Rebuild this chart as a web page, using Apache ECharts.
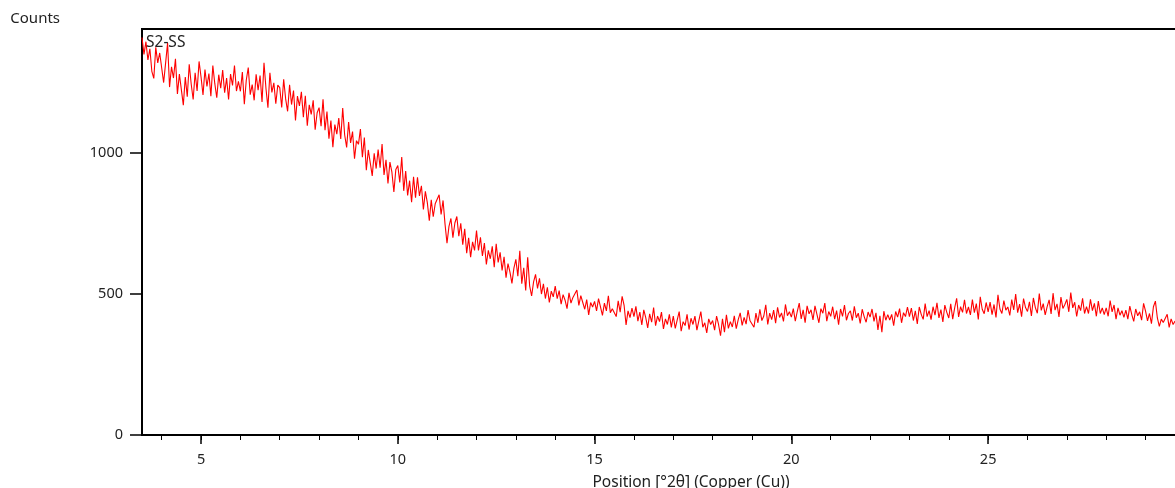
<!DOCTYPE html>
<html>
<head>
<meta charset="utf-8">
<script src="https://cdn.jsdelivr.net/npm/echarts@6/dist/echarts.min.js"></script>
<style>html,body{margin:0;padding:0;background:#fff}#c{width:1175px;height:488px}</style>
</head>
<body>
<div id="c"></div>
<script>
// Scan settings
var xStart = 3.5;
var xStep = 0.05;
var seriesName = 'S2-SS';
var xMajorTicks = [5, 10, 15, 20, 25, 30];
var xMinorTicks = [4, 5, 6, 7, 8, 9, 10, 11, 12, 13, 14, 15, 16, 17, 18, 19, 20, 21, 22, 23, 24, 25, 26, 27, 28, 29, 30, 31];
var yTicks = [0, 500, 1000];

// Counts, one value per 0.05 deg from 3.50 deg
var counts = [
  1410, 1350, 1395, 1330, 1370, 1290, 1265, 1375, 1320, 1355,
  1354, 1250, 1320, 1390, 1234, 1306, 1266, 1334, 1210, 1280,
  1225, 1170, 1270, 1200, 1315, 1245, 1190, 1285, 1220, 1325,
  1270, 1206, 1296, 1236, 1282, 1202, 1310, 1246, 1196, 1278,
  1230, 1294, 1214, 1266, 1190, 1280, 1240, 1310, 1220, 1254,
  1219, 1287, 1173, 1259, 1303, 1207, 1243, 1187, 1279, 1223,
  1275, 1181, 1320, 1229, 1161, 1285, 1215, 1249, 1175, 1241,
  1232, 1162, 1262, 1192, 1148, 1242, 1172, 1222, 1116, 1202,
  1167, 1217, 1127, 1203, 1097, 1171, 1137, 1187, 1083, 1143,
  1161, 1095, 1191, 1081, 1147, 1051, 1115, 1021, 1101, 1067,
  1124, 1050, 1160, 1064, 1020, 1110, 1036, 1076, 980, 1044,
  1031, 1085, 985, 1055, 939, 1011, 965, 919, 999, 945,
  1012, 948, 1032, 922, 976, 892, 968, 932, 862, 942,
  956, 896, 986, 866, 936, 850, 902, 826, 916, 842,
  914, 848, 884, 800, 864, 824, 760, 834, 774, 820,
  822, 852, 782, 832, 748, 680, 740, 768, 700, 752,
  775, 705, 751, 675, 731, 645, 699, 631, 685, 655,
  725, 655, 701, 635, 681, 605, 655, 625, 669, 595,
  678, 612, 648, 584, 632, 558, 608, 578, 538, 592,
  623, 563, 653, 537, 593, 513, 630, 529, 493, 543,
  570, 520, 556, 500, 536, 484, 524, 470, 510, 490,
  528, 484, 512, 464, 498, 478, 448, 504, 468, 488,
  486, 514, 460, 494, 470, 446, 480, 426, 470, 454,
  474, 440, 484, 454, 424, 468, 440, 494, 434, 448,
  450, 420, 476, 436, 492, 460, 390, 440, 416, 450,
  420, 456, 404, 436, 390, 444, 416, 380, 430, 400,
  452, 388, 422, 402, 436, 376, 412, 392, 428, 382,
  422, 378, 408, 438, 368, 402, 388, 428, 374, 414,
  392, 422, 372, 406, 438, 382, 398, 362, 412, 392,
  406, 372, 422, 392, 352, 412, 365, 426, 378, 402,
  383, 423, 377, 409, 433, 389, 417, 393, 443, 405,
  412, 382, 432, 398, 446, 406, 422, 462, 392, 432,
  409, 443, 397, 453, 417, 433, 403, 463, 423, 437,
  418, 448, 404, 438, 468, 412, 444, 398, 458, 430,
  444, 408, 458, 428, 398, 448, 432, 468, 404, 438,
  421, 455, 411, 441, 391, 447, 421, 461, 407, 431,
  440, 406, 456, 416, 432, 396, 446, 420, 400, 436,
  418, 447, 403, 433, 373, 423, 365, 439, 407, 427,
  408, 428, 388, 438, 418, 448, 398, 434, 420, 454,
  420, 450, 406, 440, 394, 454, 428, 410, 466, 420,
  441, 409, 455, 425, 469, 415, 445, 401, 461, 435,
  415, 465, 411, 451, 485, 419, 455, 435, 479, 431,
  454, 426, 480, 434, 466, 410, 490, 446, 430, 470,
  437, 471, 427, 463, 417, 497, 447, 431, 477, 443,
  454, 424, 480, 444, 500, 434, 464, 420, 484, 452,
  438, 472, 422, 486, 452, 432, 502, 442, 466, 426,
  455, 479, 429, 503, 443, 465, 419, 489, 449, 463,
  481, 437, 505, 451, 471, 421, 461, 441, 485, 431,
  455, 431, 481, 441, 467, 421, 475, 431, 451, 427,
  451, 421, 477, 437, 461, 411, 451, 425, 441, 417,
  443, 411, 457, 427, 403, 447, 423, 437, 407, 467,
  439, 405, 431, 395, 455, 475, 415, 385, 411, 399,
  402, 428, 382, 412, 392, 404
];

var data = counts.map(function (v, i) {
  return [+(xStart + i * xStep).toFixed(2), v];
});

var txt = '#222';
var font = 'Noto Sans';
var chart = echarts.init(document.getElementById('c'));
chart.setOption({
  animation: false,
  backgroundColor: '#fff',
  textStyle: { fontFamily: font },
  legend: {
    data: [{ name: seriesName, icon: 'none' }],
    left: 136, top: 30, itemWidth: 0, itemHeight: 14, itemGap: 0,
    selectedMode: false,
    textStyle: { color: txt, fontSize: 15.5, fontFamily: font }
  },
  grid: {
    left: 142, top: 29, width: 1098, bottom: 53,
    outerBoundsMode: 'none',
    containLabel: false,
    show: true, borderColor: '#000', borderWidth: 2, backgroundColor: '#fff'
  },
  xAxis: [{
    type: 'value', min: 3.5, max: 31.4, position: 'bottom',
    name: 'Position [°2θ] (Copper (Cu))', nameLocation: 'middle', nameGap: 40,
    nameTextStyle: { color: txt, fontSize: 15.5, fontFamily: font },
    axisLine: { show: true, lineStyle: { color: '#000', width: 2 } },
    axisTick: { show: true, customValues: xMajorTicks, length: 9, lineStyle: { color: '#000', width: 1.5 } },
    axisLabel: { customValues: xMajorTicks, margin: 17, color: txt, fontSize: 14.5, fontFamily: font,
      formatter: function (v) { return String(v); } },
    splitLine: { show: false }
  }, {
    type: 'value', min: 3.5, max: 31.4, position: 'bottom', offset: 0,
    axisLine: { show: false },
    axisTick: { show: true, customValues: xMinorTicks, length: 5, lineStyle: { color: '#000', width: 1 } },
    axisLabel: { show: false },
    splitLine: { show: false }
  }],
  yAxis: {
    type: 'value', min: 0, max: 1440,
    name: 'Counts', nameLocation: 'end', nameGap: 3,
    nameTextStyle: { color: txt, fontSize: 15, fontFamily: font, align: 'right', padding: [0, 82, 0, 0] },
    axisLine: { show: true, lineStyle: { color: '#000', width: 2 } },
    axisTick: { show: true, customValues: yTicks, length: 12, lineStyle: { color: '#000', width: 1.5 } },
    axisLabel: { customValues: yTicks, margin: 19, color: txt, fontSize: 14.5, fontFamily: font,
      formatter: function (v) { return String(v); } },
    splitLine: { show: false }
  },
  series: [{
    name: seriesName,
    type: 'line',
    xAxisIndex: 0,
    data: data,
    showSymbol: false,
    symbol: 'none',
    lineStyle: { color: '#ff0000', width: 1.1 },
    itemStyle: { color: '#ff0000' },
    clip: true
  }]
});
</script>
</body>
</html>
